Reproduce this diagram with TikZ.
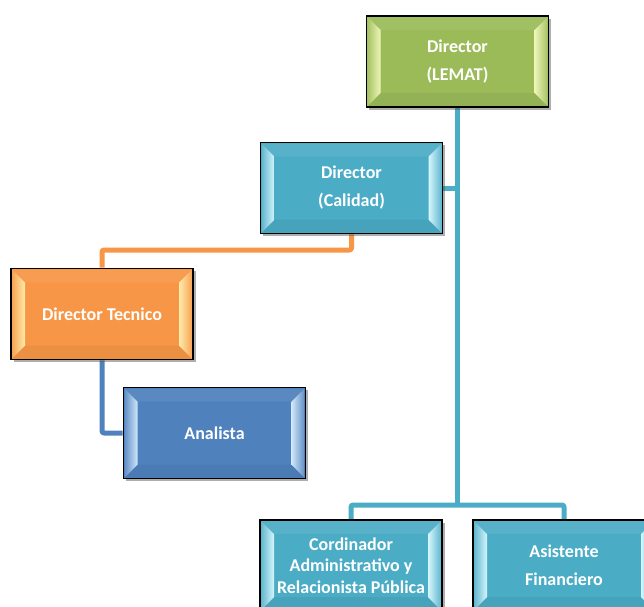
\documentclass[tikz,border=0pt]{standalone}
\usepackage{fontspec}
\setmainfont{Carlito}
\usetikzlibrary{shadows,backgrounds,calc}

\definecolor{cgreen}{HTML}{9BBB59}
\definecolor{cgreenlt}{HTML}{EEF5B8}
\definecolor{cteal}{HTML}{4BACC6}
\definecolor{ctealLt}{HTML}{D6F6FC}
\definecolor{corange}{HTML}{F79646}
\definecolor{corangelt}{HTML}{FFEBAA}
\definecolor{cblue}{HTML}{4F81BD}
\definecolor{cbluelt}{HTML}{CFE6FA}

\tikzset{
  orgbox/.style={draw=black, line width=1.6pt, text=white,
    minimum width=182pt, minimum height=91pt, inner sep=0pt, align=center,
    font=\bfseries\fontsize{18}{28}\selectfont,
    drop shadow={shadow xshift=2.5pt, shadow yshift=-2.5pt, opacity=0.45, fill=black!70}},
  tight/.style={font=\bfseries\fontsize{18}{21.5}\selectfont},
  link/.style={line width=5pt, draw=#1, line join=round, rounded corners=2pt}
}

% options, name, x, y, fill colour, highlight colour, label
\newcommand\orgbox[7][]{%
  \node[orgbox, fill=#5, #1, path picture={
    \fill[#5!94!white]
      ([shift={(1pt,-1pt)}]path picture bounding box.north west) --
      ([shift={(14pt,-14pt)}]path picture bounding box.north west) --
      ([shift={(-14pt,-14pt)}]path picture bounding box.north east) --
      ([shift={(-1pt,-1pt)}]path picture bounding box.north east) -- cycle;
    \fill[#5!95!black]
      ([shift={(1pt,1pt)}]path picture bounding box.south west) --
      ([shift={(14pt,14pt)}]path picture bounding box.south west) --
      ([shift={(-14pt,14pt)}]path picture bounding box.south east) --
      ([shift={(-1pt,1pt)}]path picture bounding box.south east) -- cycle;
    \fill[left color=#5!85!#6, right color=#6]
      ([shift={(1pt,-1pt)}]path picture bounding box.north west) --
      ([shift={(14pt,-14pt)}]path picture bounding box.north west) --
      ([shift={(14pt,14pt)}]path picture bounding box.south west) --
      ([shift={(1pt,1pt)}]path picture bounding box.south west) -- cycle;
    \fill[right color=#5!85!#6, left color=#6]
      ([shift={(-1pt,-1pt)}]path picture bounding box.north east) --
      ([shift={(-14pt,-14pt)}]path picture bounding box.north east) --
      ([shift={(-14pt,14pt)}]path picture bounding box.south east) --
      ([shift={(-1pt,1pt)}]path picture bounding box.south east) -- cycle;
  }] (#2) at (#3,#4) {#7};%
}

\begin{document}
\begin{tikzpicture}[x=1pt, y=-1pt]
  \useasboundingbox (0,0) rectangle (644,606);
  \clip (0,0) rectangle (644,606);

  \orgbox{lemat}{457.5}{61.5}{cgreen}{cgreenlt}{Director\\(LEMAT)}
  \orgbox{calidad}{351.5}{188}{cteal}{ctealLt}{Director\\(Calidad)}
  \orgbox{tecnico}{102}{314}{corange}{corangelt}{Director Tecnico}
  \orgbox{analista}{214.5}{433}{cblue}{cbluelt}{Analista}
  \orgbox[tight]{cord}{351}{565.5}{cteal}{ctealLt}{Cordinador\\Administrativo y\\Relacionista Pública}
  \orgbox{asist}{564}{565.5}{cteal}{ctealLt}{Asistente\\Financiero}

  \coordinate (bus) at (lemat.south |- 0,505);
  \coordinate (obend) at (calidad.south |- 0,250);

  \begin{scope}[on background layer]
    \draw[link=cteal] (lemat.south) -- (bus);
    \draw[link=cteal] (calidad.east) -- (calidad.east -| lemat.south);
    \draw[link=cteal] (cord.north) |- (bus) -| (asist.north);
    \draw[link=corange] (calidad.south) -- (obend) -| (tecnico.north);
    \draw[link=cblue] (tecnico.south) |- (analista.west);
  \end{scope}
\end{tikzpicture}
\end{document}
